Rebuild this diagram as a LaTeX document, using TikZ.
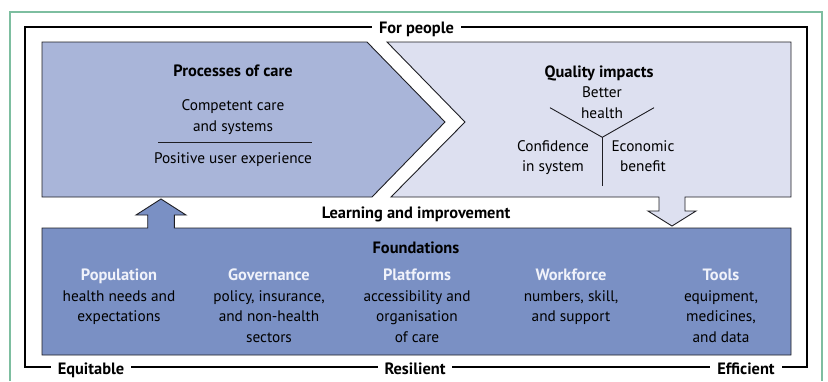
\documentclass[tikz,border=0pt]{standalone}
\usepackage{fontspec}
\setmainfont{PT Sans}
\definecolor{procfill}{RGB}{169,181,217}
\definecolor{qualfill}{RGB}{221,224,240}
\definecolor{foundfill}{RGB}{122,144,196}
\definecolor{greenline}{RGB}{125,190,160}
\definecolor{lighttxt}{RGB}{240,242,250}
\definecolor{edge}{RGB}{30,30,35}
\begin{document}
\begin{tikzpicture}[x=1pt,y=-1pt,
  every node/.style={inner sep=0pt,outer sep=0pt},
  txt/.style={font=\fontsize{15.3}{20.7}\selectfont, align=center, anchor=base},
  ttl/.style={font=\fontsize{16.4}{20.7}\selectfont\bfseries, align=center, anchor=base},
  lttl/.style={font=\fontsize{16.4}{20.7}\selectfont\bfseries, align=center, anchor=base, text=lighttxt},
  framelbl/.style={ttl, fill=white, inner xsep=7pt, inner ysep=3pt},
  boxedge/.style={draw=edge, line width=0.9pt, line join=miter},
  thin/.style={draw=edge, line width=0.9pt}]
\useasboundingbox (0,0) rectangle (828,381);
% green outer border
\draw[greenline, line width=1.2pt] (10,381) -- (10,12) -- (822,12) -- (822,381);
% black frame
\draw[black, line width=1.1pt] (25,27) rectangle (807,367);
% processes
\path[boxedge, fill=procfill] (42,42) -- (367,42) -- (445,122) -- (372,197) -- (42,197) -- cycle;
% quality impacts with down arrow
\path[boxedge, fill=qualfill] (387,42) -- (791,42) -- (791,197) -- (685,197) -- (685,211) -- (696,211)
  -- (672,226) -- (648,211) -- (659,211) -- (659,197) -- (391,197) -- (465,122) -- cycle;
% foundations with up arrow
\path[boxedge, fill=foundfill] (42,228) -- (147.7,228) -- (147.7,215) -- (136,215) -- (161,199) -- (186,215)
  -- (174.3,215) -- (174.3,228) -- (791,228) -- (791,355) -- (42,355) -- cycle;
% frame labels
\node[framelbl] (forpeople) at (416.5,33) {For people};
\node[framelbl] (equitable) at (91,374) {Equitable};
\node[framelbl] (resilient) at (415,374) {Resilient};
\node[framelbl] (efficient) at (746,374) {Efficient};
% processes texts
\node[ttl] (proc) at (233,76) {Processes of care};
\node[txt] (competent) at (233,131.5) {Competent care\\and systems};
\coordinate (sepL) at (158,142.7);
\coordinate (sepR) at (312,142.7);
\draw[thin] (sepL) -- (sepR);
\node[txt] (positive) at (233,163) {Positive user experience};
% quality texts
\node[ttl] (qual) at (599,77.3) {Quality impacts};
\node[txt] (better) at (602,118.3) {Better\\health};
\node[txt] (confidence) at (553,171.7) {Confidence\\in system};
\node[txt] (economic) at (643,171.7) {Economic\\benefit};
\coordinate (yL) at (550,107.7);
\coordinate (yR) at (654,107.7);
\coordinate (yJ) at (602.3,137.3);
\coordinate (yB) at (602.3,186);
\draw[thin] (yL) -- (yJ) -- (yR);
\draw[thin] (yJ) -- (yB);
% learning
\node[ttl] (learning) at (416,218) {Learning and improvement};
% foundations
\node[ttl] (found) at (416,253.3) {Foundations};
\node[lttl] (popT) at (119,280) {Population};
\node[txt] (popB) at (119,321.7) {health needs and\\expectations};
\node[lttl] (govT) at (269,280) {Governance};
\node[txt] (govB) at (269,342.4) {policy, insurance,\\and non-health\\sectors};
\node[lttl] (platT) at (417,280) {Platforms};
\node[txt] (platB) at (417,342.4) {accessibility and\\organisation\\of care};
\node[lttl] (workT) at (571,280) {Workforce};
\node[txt] (workB) at (571,321.7) {numbers, skill,\\and support};
\node[lttl] (toolT) at (721,280) {Tools};
\node[txt] (toolB) at (721,342.4) {equipment,\\medicines,\\and data};
\end{tikzpicture}
\end{document}
